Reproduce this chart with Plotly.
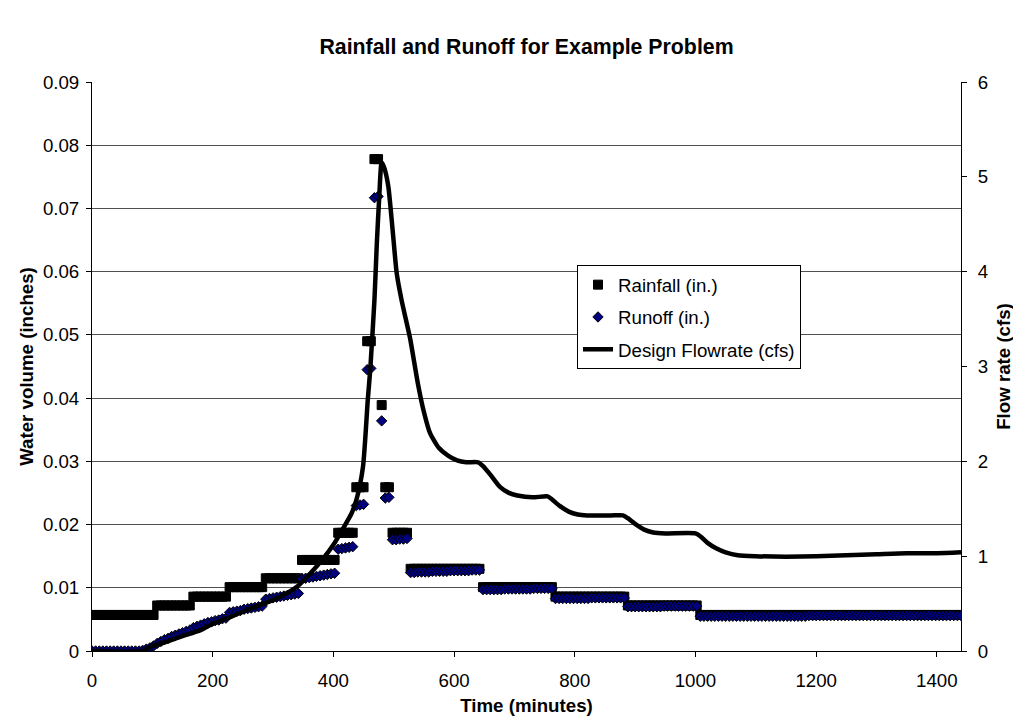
import plotly.graph_objects as go

# Time axis (minutes), 6-minute steps
time_min = list(range(0, 1441, 6))

# Rainfall per 6-min step (inches)
rainfall_in = [
    0.0057, 0.0057, 0.0057, 0.0057, 0.0057, 0.0057, 0.0057, 0.0057, 0.0057, 0.0057,
    0.0057, 0.0057, 0.0057, 0.0057, 0.0057, 0.0057, 0.0057, 0.0057,
    0.0072, 0.0072, 0.0072, 0.0072, 0.0072, 0.0072, 0.0072, 0.0072, 0.0072, 0.0072,
    0.0086, 0.0086, 0.0086, 0.0086, 0.0086, 0.0086, 0.0086, 0.0086, 0.0086, 0.0086,
    0.0101, 0.0101, 0.0101, 0.0101, 0.0101, 0.0101, 0.0101, 0.0101, 0.0101, 0.0101,
    0.0115, 0.0115, 0.0115, 0.0115, 0.0115, 0.0115, 0.0115, 0.0115, 0.0115, 0.0115,
    0.0144, 0.0144, 0.0144, 0.0144, 0.0144, 0.0144, 0.0144, 0.0144, 0.0144, 0.0144,
    0.0187, 0.0187, 0.0187, 0.0187, 0.0187,
    0.0259, 0.0259, 0.0259,
    0.0490, 0.0490,
    0.0778, 0.0778,
    0.0389,
    0.0259, 0.0259,
    0.0187, 0.0187, 0.0187, 0.0187, 0.0187,
    0.0130, 0.0130, 0.0130, 0.0130, 0.0130, 0.0130, 0.0130, 0.0130, 0.0130, 0.0130,
    0.0130, 0.0130, 0.0130, 0.0130, 0.0130, 0.0130, 0.0130, 0.0130, 0.0130, 0.0130,
    0.0101, 0.0101, 0.0101, 0.0101, 0.0101, 0.0101, 0.0101, 0.0101, 0.0101, 0.0101,
    0.0101, 0.0101, 0.0101, 0.0101, 0.0101, 0.0101, 0.0101, 0.0101, 0.0101, 0.0101,
    0.0086, 0.0086, 0.0086, 0.0086, 0.0086, 0.0086, 0.0086, 0.0086, 0.0086, 0.0086,
    0.0086, 0.0086, 0.0086, 0.0086, 0.0086, 0.0086, 0.0086, 0.0086, 0.0086, 0.0086,
    0.0072, 0.0072, 0.0072, 0.0072, 0.0072, 0.0072, 0.0072, 0.0072, 0.0072, 0.0072,
    0.0072, 0.0072, 0.0072, 0.0072, 0.0072, 0.0072, 0.0072, 0.0072, 0.0072, 0.0072,
    0.0057, 0.0057, 0.0057, 0.0057, 0.0057, 0.0057, 0.0057, 0.0057, 0.0057, 0.0057,
    0.0057, 0.0057, 0.0057, 0.0057, 0.0057, 0.0057, 0.0057, 0.0057, 0.0057, 0.0057,
    0.0057, 0.0057, 0.0057, 0.0057, 0.0057, 0.0057, 0.0057, 0.0057, 0.0057, 0.0057,
    0.0057, 0.0057, 0.0057, 0.0057, 0.0057, 0.0057, 0.0057, 0.0057, 0.0057, 0.0057,
    0.0057, 0.0057, 0.0057, 0.0057, 0.0057, 0.0057, 0.0057, 0.0057, 0.0057, 0.0057,
    0.0057, 0.0057, 0.0057, 0.0057, 0.0057, 0.0057, 0.0057, 0.0057, 0.0057, 0.0057,
    0.0057, 0.0057, 0.0057, 0.0057, 0.0057, 0.0057, 0.0057, 0.0057, 0.0057, 0.0057,
    0.0057, 0.0057, 0.0057,
]

# Runoff per 6-min step (inches)
runoff_in = [
    0.0, 0.0, 0.0, 0.0, 0.0, 0.0, 0.0, 0.0, 0.0, 0.0,
    0.0, 0.0, 0.0, 0.0, 0.0001, 0.0003, 0.0005, 0.0008,
    0.0012, 0.0015, 0.0018, 0.0020, 0.0023, 0.0025, 0.0027, 0.0029, 0.0031, 0.0033,
    0.0037, 0.0039, 0.0041, 0.0043, 0.0045, 0.0046, 0.0048, 0.0049, 0.0051, 0.0052,
    0.0061, 0.0062, 0.0063, 0.0064, 0.0066, 0.0067, 0.0068, 0.0069, 0.0070, 0.0071,
    0.0082, 0.0083, 0.0084, 0.0085, 0.0086, 0.0087, 0.0088, 0.0089, 0.0090, 0.0091,
    0.0114, 0.0115, 0.0116, 0.0117, 0.0118, 0.0119, 0.0120, 0.0121, 0.0122, 0.0123,
    0.0161, 0.0162, 0.0163, 0.0164, 0.0165,
    0.0230, 0.0231, 0.0232,
    0.0445, 0.0447,
    0.0717, 0.0719,
    0.0364,
    0.0242, 0.0243,
    0.0176, 0.0176, 0.0177, 0.0177, 0.0178,
    0.0124, 0.0124, 0.0125, 0.0125, 0.0125, 0.0125, 0.0126, 0.0126, 0.0126, 0.0126,
    0.0126, 0.0127, 0.0127, 0.0127, 0.0127, 0.0127, 0.0127, 0.0128, 0.0128, 0.0128,
    0.0097, 0.0097, 0.0097, 0.0097, 0.0097, 0.0097, 0.0098, 0.0098, 0.0098, 0.0098,
    0.0098, 0.0098, 0.0098, 0.0098, 0.0099, 0.0099, 0.0099, 0.0099, 0.0099, 0.0099,
    0.0083, 0.0083, 0.0083, 0.0083, 0.0083, 0.0083, 0.0083, 0.0083, 0.0083, 0.0083,
    0.0084, 0.0084, 0.0084, 0.0084, 0.0084, 0.0084, 0.0084, 0.0084, 0.0084, 0.0084,
    0.0070, 0.0070, 0.0070, 0.0070, 0.0070, 0.0070, 0.0070, 0.0070, 0.0070, 0.0070,
    0.0071, 0.0071, 0.0071, 0.0071, 0.0071, 0.0071, 0.0071, 0.0071, 0.0071, 0.0071,
    0.0055, 0.0055, 0.0055, 0.0055, 0.0055, 0.0055, 0.0055, 0.0055, 0.0055, 0.0055,
    0.0055, 0.0055, 0.0055, 0.0055, 0.0055, 0.0055, 0.0055, 0.0055, 0.0055, 0.0055,
    0.0055, 0.0055, 0.0055, 0.0055, 0.0055, 0.0055, 0.0055, 0.0055, 0.0055, 0.0055,
    0.0056, 0.0056, 0.0056, 0.0056, 0.0056, 0.0056, 0.0056, 0.0056, 0.0056, 0.0056,
    0.0056, 0.0056, 0.0056, 0.0056, 0.0056, 0.0056, 0.0056, 0.0056, 0.0056, 0.0056,
    0.0056, 0.0056, 0.0056, 0.0056, 0.0056, 0.0056, 0.0056, 0.0056, 0.0056, 0.0056,
    0.0056, 0.0056, 0.0056, 0.0056, 0.0056, 0.0056, 0.0056, 0.0056, 0.0056, 0.0056,
    0.0056, 0.0056, 0.0056,
]

# Design flowrate (cfs)
flow_time = [0, 84, 96, 120, 146, 180, 201, 230, 256, 285, 311, 340, 356, 380, 400,
             414, 430, 438, 449, 457, 461, 468, 472, 476, 480, 484, 491, 498, 505,
             513, 520, 527, 540, 550, 560, 575, 590, 605, 620, 640, 648, 660, 676,
             690, 705, 730, 755, 762, 775, 790, 805, 820, 860, 880, 888, 900, 915,
             930, 950, 1000, 1008, 1020, 1035, 1050, 1070, 1100, 1150, 1200, 1250,
             1300, 1350, 1400, 1440]
flow_cfs = [0.0, 0.0, 0.04, 0.09, 0.15, 0.22, 0.29, 0.36, 0.43, 0.50, 0.57, 0.68, 0.78,
            0.95, 1.12, 1.27, 1.45, 1.59, 1.94, 2.65, 2.96, 3.70, 4.30, 4.79, 5.15,
            5.10, 4.90, 4.45, 3.98, 3.70, 3.50, 3.30, 2.82, 2.52, 2.30, 2.14, 2.06,
            2.01, 1.99, 1.99, 1.95, 1.86, 1.73, 1.67, 1.64, 1.62, 1.63, 1.60, 1.53,
            1.47, 1.44, 1.43, 1.43, 1.43, 1.40, 1.34, 1.28, 1.25, 1.24, 1.24, 1.21,
            1.14, 1.08, 1.04, 1.01, 1.00, 0.995, 1.00, 1.01, 1.02, 1.03, 1.03, 1.04]

FONT = "Liberation Sans, Arial, sans-serif"
FS = 18.7

fig = go.Figure()
fig.add_trace(go.Scatter(
    x=time_min, y=rainfall_in, mode="markers", name="Rainfall (in.)",
    legendgroup="a",
    marker=dict(symbol="square", size=9, color="#000000",
                line=dict(color="#000000", width=1)),
))
fig.add_trace(go.Scatter(
    x=time_min, y=runoff_in, mode="markers", name="Runoff (in.)",
    legendgroup="b",
    marker=dict(symbol="diamond", size=8, color="#000080",
                line=dict(color="#000000", width=1)),
))
fig.add_trace(go.Scatter(
    x=flow_time, y=flow_cfs, mode="lines", name="Design Flowrate (cfs)",
    legendgroup="c", yaxis="y2",
    line=dict(color="#000000", width=4.5, shape="spline", smoothing=0.6),
))

fig.update_layout(
    width=1021, height=725,
    margin=dict(l=84, r=68, t=74, b=82),
    paper_bgcolor="white", plot_bgcolor="white",
    font=dict(family=FONT, size=FS, color="#000000"),
    title=dict(text="<b>Rainfall and Runoff for Example Problem</b>",
               x=0.5, xref="paper", y=1 - 39 / 725, yref="container",
               yanchor="middle", font=dict(family=FONT, size=21.3)),
    xaxis=dict(range=[0, 1440], dtick=200, tick0=0, showgrid=False,
               showline=True, linecolor="#000000", linewidth=1,
               ticks="outside", ticklen=5, tickcolor="#000000",
               zeroline=False, ticklabelstandoff=8,
               title=dict(text="<b>Time (minutes)</b>", standoff=8,
                          font=dict(size=FS))),
    yaxis=dict(range=[0, 0.09], dtick=0.01, tick0=0, showgrid=True,
               gridcolor="#505050", gridwidth=1, zeroline=False,
               showline=True, linecolor="#000000", linewidth=1,
               ticks="outside", ticklen=5, tickcolor="#000000",
               ticklabelstandoff=3,
               title=dict(text="<b>Water volume (inches)</b>", standoff=4,
                          font=dict(size=FS))),
    yaxis2=dict(range=[0, 6], dtick=1, tick0=0, overlaying="y", side="right",
                showgrid=False, zeroline=False,
                showline=True, linecolor="#000000", linewidth=1,
                ticks="outside", ticklen=5, tickcolor="#000000",
                ticklabelstandoff=7,
                title=dict(text="<b>Flow rate (cfs)</b>", standoff=9,
                           font=dict(size=FS))),
    legend=dict(x=(577 - 92) / 869, y=(651 - 265) / 569, xanchor="left",
                yanchor="top", bgcolor="white", bordercolor="#000000",
                borderwidth=1, font=dict(family=FONT, size=FS),
                tracegroupgap=5, traceorder="grouped"),
    showlegend=True,
)

fig.write_html("out.html")
